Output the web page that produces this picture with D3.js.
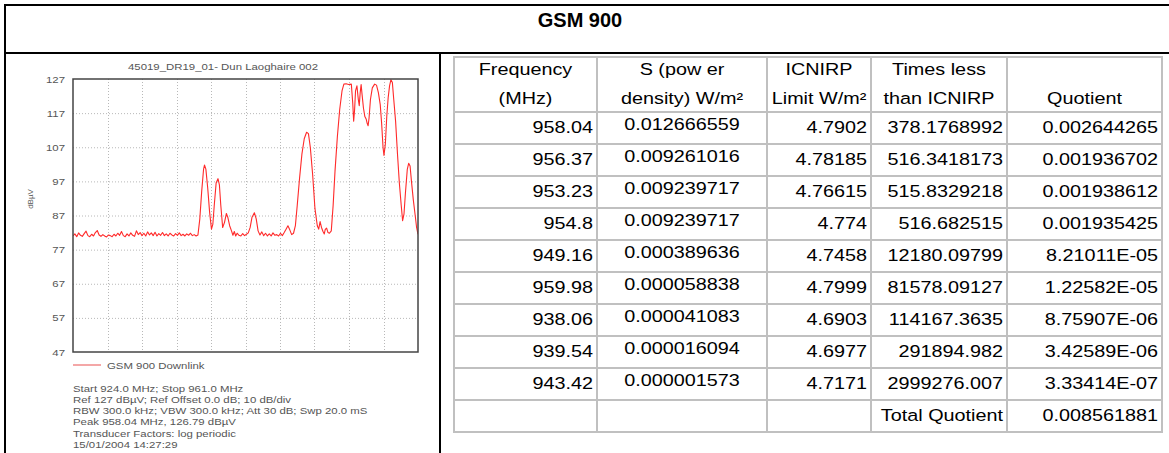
<!DOCTYPE html>
<html>
<head>
<meta charset="utf-8">
<script src="https://cdn.jsdelivr.net/npm/d3@7"></script>
<style>
body { margin: 0; background: #fff; }
svg { display: block; font-family: "Liberation Sans", Arial, sans-serif; }
</style>
</head>
<body>
<script>
// spectrum trace: [MHz, dBuV]
var trace = [
  [924.0,81.0],[924.2,81.6],[924.4,80.8],[924.6,81.9],[924.8,81.2],[925.0,80.9],[925.2,81.7],[925.4,82.4],
  [925.6,81.1],[925.8,80.8],[926.0,81.5],[926.2,81.0],[926.4,82.0],[926.6,82.6],[926.8,81.3],[927.0,80.9],
  [927.2,81.4],[927.4,81.0],[927.6,80.7],[927.8,81.3],[928.0,81.1],[928.2,80.8],[928.4,81.5],[928.6,81.0],
  [928.8,81.8],[929.0,81.2],[929.2,82.3],[929.4,81.1],[929.6,80.8],[929.8,81.6],[930.0,81.0],[930.2,81.9],
  [930.4,81.2],[930.6,80.9],[930.8,82.5],[931.0,81.4],[931.2,82.0],[931.4,81.1],[931.6,81.8],[931.8,81.0],
  [932.0,82.2],[932.2,81.3],[932.4,81.9],[932.6,81.1],[932.8,82.1],[933.0,81.0],[933.2,81.7],[933.4,81.2],
  [933.6,82.0],[933.8,81.1],[934.0,81.6],[934.2,81.0],[934.4,81.8],[934.6,81.3],[934.8,81.0],[935.0,81.7],
  [935.2,81.2],[935.4,81.9],[935.6,81.1],[935.8,81.5],[936.0,81.0],[936.2,81.6],[936.4,81.2],[936.6,81.8],
  [936.8,81.1],[937.0,81.4],[937.2,81.0],[937.4,81.3],[937.6,86.0],[937.8,94.0],[938.0,100.5],[938.1,101.8],
  [938.25,100.6],[938.45,95.0],[938.65,88.0],[938.85,83.0],[939.0,84.5],[939.15,90.0],[939.35,96.5],[939.55,97.8],
  [939.7,96.0],[939.85,90.0],[940.05,83.5],[940.25,85.0],[940.45,87.6],[940.6,86.5],[940.8,84.0],[941.0,82.5],
  [941.15,81.2],[941.3,82.3],[941.45,81.0],[941.6,81.8],[941.8,81.2],[942.0,81.0],[942.2,81.7],[942.4,81.1],
  [942.6,81.5],[942.8,81.9],[943.0,83.5],[943.2,86.5],[943.45,87.8],[943.65,86.0],[943.85,82.5],[944.05,81.3],
  [944.25,82.2],[944.45,81.1],[944.65,81.8],[944.85,81.0],[945.05,81.6],[945.25,81.0],[945.45,81.9],[945.65,81.2],
  [945.85,81.4],[946.05,81.0],[946.25,81.8],[946.45,81.1],[946.65,82.0],[946.85,83.0],[947.05,84.0],[947.25,82.8],
  [947.45,81.4],[947.65,81.8],[947.85,84.0],[948.05,90.0],[948.3,98.0],[948.55,105.0],[948.8,109.5],[949.05,111.4],
  [949.25,111.0],[949.45,107.0],[949.7,99.0],[949.95,89.0],[950.2,84.0],[950.35,83.0],[950.5,85.2],[950.65,83.5],
  [950.8,82.4],[950.95,81.6],[951.05,82.9],[951.2,83.3],[951.35,82.0],[951.5,81.8],[951.7,82.5],[951.9,90.0],
  [952.1,100.0],[952.35,110.0],[952.6,118.0],[952.85,123.5],[953.05,125.5],[953.3,125.6],[953.55,125.4],[953.85,125.5],
  [954.0,120.0],[954.1,114.6],[954.2,118.0],[954.3,123.5],[954.45,125.0],[954.6,121.0],[954.7,119.2],[954.8,123.0],
  [954.9,125.4],[955.0,122.5],[955.15,118.5],[955.3,116.0],[955.45,115.2],[955.55,114.0],[955.65,113.3],[955.75,115.5],
  [955.9,121.0],[956.1,124.4],[956.35,125.5],[956.55,125.2],[956.75,123.0],[956.95,119.5],[957.1,114.0],[957.25,107.0],
  [957.35,104.6],[957.5,108.0],[957.65,116.0],[957.8,121.5],[957.95,125.0],[958.1,126.8],[958.25,126.0],[958.4,121.0],
  [958.6,114.5],[958.8,105.0],[959.0,96.5],[959.2,90.0],[959.35,85.5],[959.5,87.5],[959.65,93.5],[959.85,100.5],
  [960.0,102.3],[960.15,101.5],[960.3,97.0],[960.5,91.5],[960.7,87.0],[960.85,83.5],[961.0,81.5]
];
var yTicks = [47, 57, 67, 77, 87, 97, 107, 117, 127];
var infoLines = [
  "Start 924.0 MHz; Stop 961.0 MHz",
  "Ref 127 dB\u00b5V; Ref Offset 0.0 dB; 10 dB/div",
  "RBW 300.0 kHz; VBW 300.0 kHz; Att 30 dB; Swp 20.0 mS",
  "Peak 958.04 MHz, 126.79 dB\u00b5V",
  "Transducer Factors: log periodic",
  "15/01/2004 14:27:29"
];

// table
var headers = [
  ["Frequency", "(MHz)"],
  ["S (pow er", "density) W/m\u00b2"],
  ["ICNIRP", "Limit W/m\u00b2"],
  ["Times less", "than ICNIRP"],
  ["", "Quotient"]
];
var frequency = ["958.04","956.37","953.23","954.8","949.16","959.98","938.06","939.54","943.42"];
var powerDensity = ["0.012666559","0.009261016","0.009239717","0.009239717","0.000389636","0.000058838","0.000041083","0.000016094","0.000001573"];
var icnirpLimit = ["4.7902","4.78185","4.76615","4.774","4.7458","4.7999","4.6903","4.6977","4.7171"];
var timesLess = ["378.1768992","516.3418173","515.8329218","516.682515","12180.09799","81578.09127","114167.3635","291894.982","2999276.007"];
var quotient = ["0.002644265","0.001936702","0.001938612","0.001935425","8.21011E-05","1.22582E-05","8.75907E-06","3.42589E-06","3.33414E-07"];
var totalLabel = "Total Quotient";
var totalQuotient = "0.008561881";

var W = 1169, H = 453;
var svg = d3.select("body").append("svg")
    .attr("width", W)
    .attr("height", H);
svg.append("rect").attr("width", W).attr("height", H).attr("fill", "#fff");

// text in the source is drawn a little wide, so stretch it horizontally
function wideText(g, x, y, str, size, anchor, sx) {
    return g.append("text")
        .attr("transform", "translate(" + x + "," + y + ") scale(" + sx + ",1)")
        .attr("text-anchor", anchor)
        .attr("font-size", size)
        .text(str);
}

// outer frame
var frame = svg.append("g").attr("stroke", "#000").attr("stroke-width", 2);
frame.append("line").attr("x1", 4).attr("x2", W).attr("y1", 5).attr("y2", 5);
frame.append("line").attr("x1", 4).attr("x2", W).attr("y1", 53).attr("y2", 53);
frame.append("line").attr("x1", 5).attr("x2", 5).attr("y1", 4).attr("y2", H);
frame.append("line").attr("x1", 440).attr("x2", 440).attr("y1", 53).attr("y2", H);

svg.append("text")
    .attr("x", 580).attr("y", 27)
    .attr("text-anchor", "middle")
    .attr("font-weight", "bold")
    .attr("font-size", 20)
    .text("GSM 900");

//---- spectrum plot ----
var plot = {left: 73, right: 418, top: 79, bottom: 352};
var x = d3.scaleLinear().domain([924, 961]).range([plot.left, plot.right]);
var y = d3.scaleLinear().domain([47, 127]).range([plot.bottom, plot.top]);
var div = d3.scaleLinear().domain([0, 10]).range([plot.left, plot.right]);

var chart = svg.append("g").attr("fill", "#555");

wideText(chart, 223, 70, "45019_DR19_01- Dun Laoghaire 002", 9.5, "middle", 1.2);

// grid
chart.append("g").selectAll("line")
    .data(yTicks.slice(1, -1))
    .enter().append("line")
    .attr("x1", plot.left).attr("x2", plot.right)
    .attr("y1", function(d) { return y(d) + 0.5; })
    .attr("y2", function(d) { return y(d) + 0.5; })
    .attr("stroke", "#b8b8b8")
    .attr("stroke-dasharray", "1,2");
chart.append("g").selectAll("line")
    .data(d3.range(1, 10))
    .enter().append("line")
    .attr("x1", function(d) { return Math.round(div(d)) + 0.5; })
    .attr("x2", function(d) { return Math.round(div(d)) + 0.5; })
    .attr("y1", plot.top).attr("y2", plot.bottom)
    .attr("stroke", "#b8b8b8")
    .attr("stroke-dasharray", "1,2");

// y tick labels
var tickG = chart.append("g");
yTicks.forEach(function(d) {
    wideText(tickG, 65, y(d) + 3.5, d, 9.5, "end", 1.2);
});

chart.append("text")
    .attr("transform", "translate(33,199) rotate(-90)")
    .attr("text-anchor", "middle")
    .attr("font-size", 8)
    .text("dB\u00b5V");

svg.append("clipPath").attr("id", "plotclip")
    .append("rect")
    .attr("x", plot.left).attr("y", plot.top - 2)
    .attr("width", plot.right - plot.left).attr("height", plot.bottom - plot.top + 2);

var line = d3.line()
    .x(function(d) { return x(d[0]); })
    .y(function(d) { return y(d[1]); });

chart.append("path")
    .datum(trace)
    .attr("clip-path", "url(#plotclip)")
    .attr("d", line)
    .attr("fill", "none")
    .attr("stroke", "#ff2a2a")
    .attr("stroke-width", 1.1)
    .attr("stroke-linejoin", "round");

chart.append("rect")
    .attr("x", plot.left).attr("y", plot.top)
    .attr("width", plot.right - plot.left).attr("height", plot.bottom - plot.top)
    .attr("fill", "none")
    .attr("stroke", "#444")
    .attr("stroke-width", 1.5);

// legend
chart.append("line")
    .attr("x1", 73).attr("x2", 101).attr("y1", 365).attr("y2", 365)
    .attr("stroke", "#f08a8a").attr("stroke-width", 1.5);
wideText(chart, 107, 368.5, "GSM 900 Downlink", 9.5, "start", 1.2);

var infoG = chart.append("g");
infoLines.forEach(function(d, i) {
    wideText(infoG, 73, 391.5 + i * 11.3, d, 9.5, "start", 1.2);
});

//---- table ----
var colX = [454, 597, 767, 871, 1007, 1162];
var headTop = 57, headBottom = 112, rowH = 32;
var nRows = frequency.length + 1;
var tableBottom = headBottom + nRows * rowH;

var rows = frequency.map(function(f, i) {
    return [f, powerDensity[i], icnirpLimit[i], timesLess[i], quotient[i]];
});
rows.push(["", "", "", totalLabel, totalQuotient]);

var table = svg.append("g").attr("fill", "#000");

// grid lines
var tl = table.append("g").attr("stroke", "#c0c0c0").attr("stroke-width", 2);
var hLines = [headTop, headBottom].concat(d3.range(1, nRows + 1).map(function(i) { return headBottom + i * rowH; }));
tl.selectAll(".h").data(hLines).enter().append("line")
    .attr("x1", colX[0] - 1).attr("x2", colX[5] + 1)
    .attr("y1", function(d) { return d; }).attr("y2", function(d) { return d; });
tl.selectAll(".v").data(colX).enter().append("line")
    .attr("x1", function(d) { return d; }).attr("x2", function(d) { return d; })
    .attr("y1", headTop).attr("y2", tableBottom);

var FS = 16.5, SX = 1.2;

// header text
headers.forEach(function(h, c) {
    var cx = (colX[c] + colX[c + 1]) / 2;
    h.forEach(function(t, k) {
        if (t) wideText(table, cx, k === 0 ? 75 : 104, t, FS, "middle", SX);
    });
});

// body cells
rows.forEach(function(r, i) {
    var top = headBottom + i * rowH;
    r.forEach(function(t, c) {
        if (!t) return;
        var centred = (c === 1);
        wideText(table,
            centred ? (colX[c] + colX[c + 1]) / 2 : colX[c + 1] - 4,
            top + (centred ? 18 : 21),
            t, FS, centred ? "middle" : "end", SX);
    });
});
</script>
</body>
</html>
